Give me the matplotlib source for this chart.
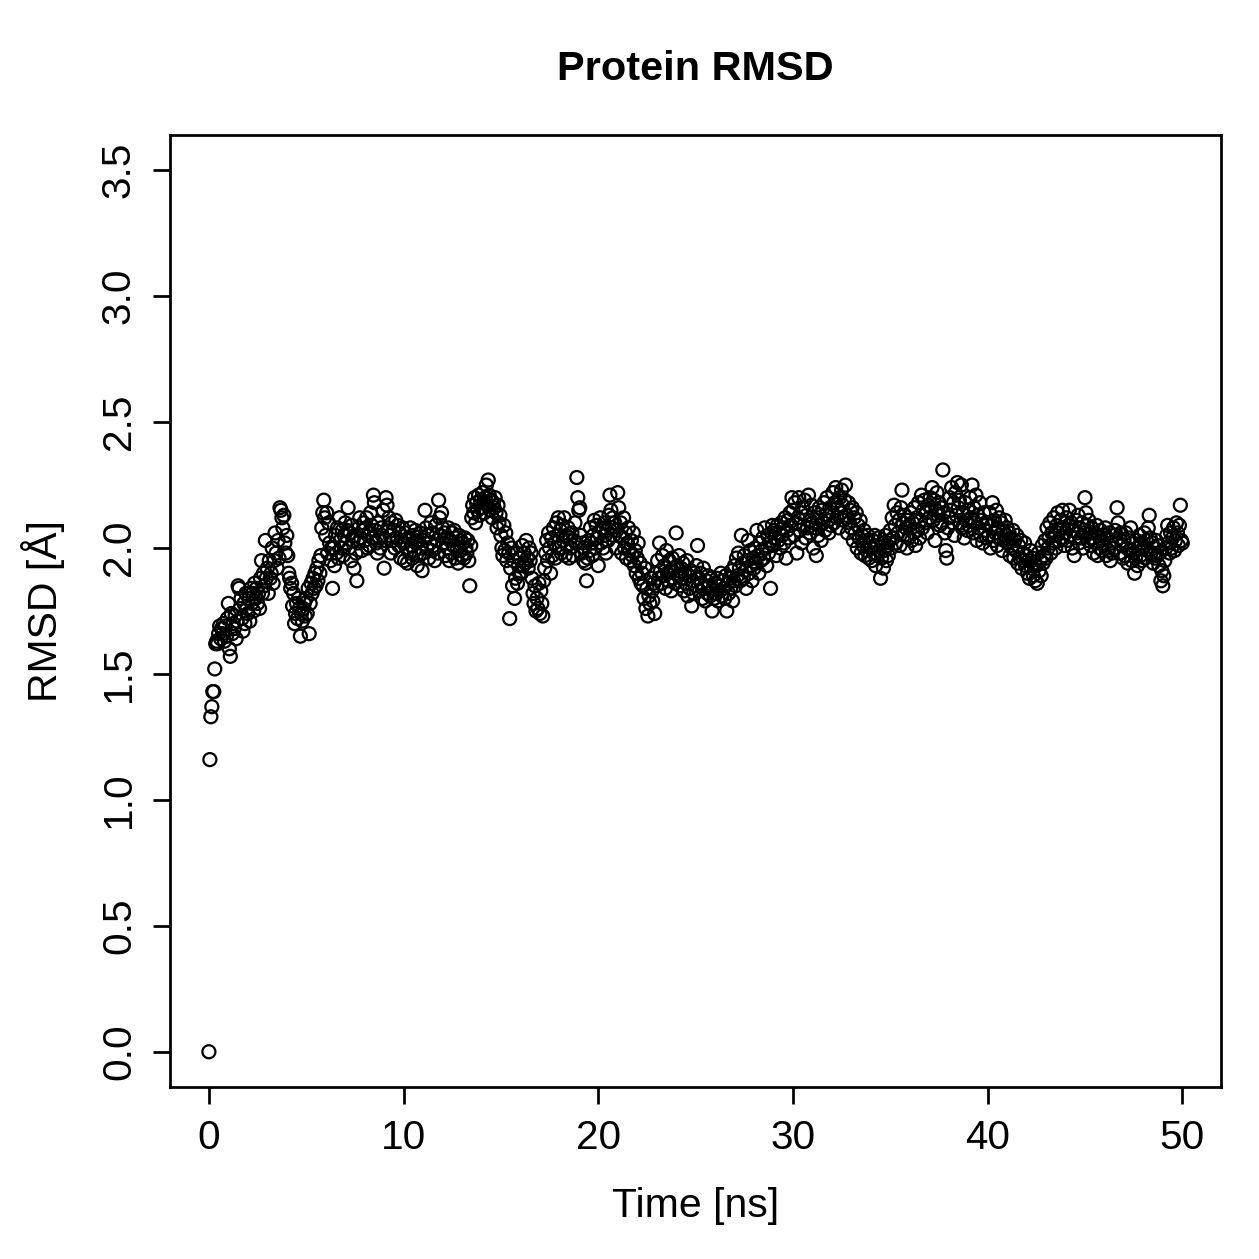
import numpy as np
import matplotlib
matplotlib.use("Agg")
import matplotlib.pyplot as plt

plt.rcParams["font.family"] = ["Liberation Sans", "DejaVu Sans"]

# RMSD values, one row per ns (0.05 ns steps)
rmsd_rows = [
    [0.00, 1.16, 1.33, 1.37, 1.43, 1.43, 1.52, 1.62, 1.63, 1.62, 1.66, 1.69, 1.64, 1.68, 1.66, 1.70, 1.63, 1.69, 1.65, 1.72],
    [1.78, 1.60, 1.57, 1.74, 1.66, 1.70, 1.68, 1.73, 1.64, 1.71, 1.85, 1.84, 1.76, 1.80, 1.72, 1.67, 1.78, 1.70, 1.82, 1.76],
    [1.74, 1.80, 1.71, 1.84, 1.78, 1.82, 1.75, 1.86, 1.80, 1.84, 1.78, 1.82, 1.76, 1.88, 1.95, 1.82, 1.90, 1.85, 2.03, 1.88],
    [1.92, 1.82, 1.95, 1.88, 1.90, 2.00, 1.86, 1.95, 2.06, 1.98, 1.92, 2.03, 1.96, 2.16, 2.15, 2.12, 2.08, 2.13, 2.02, 1.98],
    [2.05, 1.97, 1.90, 1.88, 1.84, 1.86, 1.77, 1.82, 1.70, 1.74, 1.78, 1.72, 1.80, 1.76, 1.65, 1.74, 1.71, 1.76, 1.78, 1.73],
    [1.80, 1.74, 1.84, 1.66, 1.78, 1.86, 1.82, 1.88, 1.84, 1.90, 1.85, 1.92, 1.87, 1.95, 1.90, 1.97, 2.08, 2.14, 2.19, 2.12],
    [2.05, 2.14, 1.98, 2.10, 2.02, 1.95, 2.00, 1.84, 2.00, 1.93, 2.05, 1.98, 2.08, 1.96, 2.12, 2.03, 2.00, 2.07, 1.97, 2.05],
    [2.10, 2.02, 2.07, 2.16, 2.00, 2.06, 1.95, 2.09, 2.03, 1.92, 2.05, 1.98, 1.87, 2.02, 2.08, 2.12, 2.04, 1.99, 2.07, 2.10],
    [2.03, 2.08, 2.12, 2.00, 2.06, 2.01, 2.14, 2.09, 2.04, 2.21, 2.18, 2.07, 2.02, 1.98, 2.10, 2.04, 2.00, 2.08, 2.05, 2.15],
    [1.92, 2.03, 2.20, 2.17, 2.08, 2.12, 2.05, 1.98, 2.10, 2.03, 2.07, 2.00, 2.11, 2.04, 2.09, 2.01, 2.06, 1.96, 2.03, 2.08],
    [2.02, 1.95, 2.06, 2.00, 1.94, 2.04, 1.98, 2.08, 2.01, 1.96, 2.05, 1.99, 2.07, 2.02, 1.93, 2.03, 1.97, 2.06, 2.00, 1.91],
    [1.98, 2.04, 2.15, 2.08, 2.00, 2.05, 1.96, 2.02, 2.10, 1.99, 2.06, 2.01, 1.95, 2.09, 2.03, 1.98, 2.19, 2.12, 2.05, 2.14],
    [2.08, 2.02, 2.06, 1.97, 2.04, 2.00, 2.08, 1.95, 2.03, 1.98, 2.06, 2.01, 2.07, 1.96, 2.04, 2.00, 1.94, 2.05, 1.99, 2.03],
    [1.97, 2.02, 1.96, 2.04, 2.00, 1.98, 2.03, 1.95, 1.85, 2.01, 2.12, 2.17, 2.14, 2.20, 2.10, 2.18, 2.15, 2.21, 2.13, 2.19],
    [2.16, 2.22, 2.18, 2.14, 2.20, 2.25, 2.17, 2.27, 2.21, 2.15, 2.19, 2.12, 2.18, 2.16, 2.20, 2.14, 2.08, 2.17, 2.10, 2.13],
    [2.05, 2.00, 1.97, 2.09, 1.99, 2.06, 1.95, 2.02, 1.98, 1.72, 1.92, 2.00, 1.85, 1.95, 1.80, 1.88, 1.98, 1.86, 1.93, 1.90],
    [1.96, 1.90, 2.01, 1.93, 1.98, 1.94, 2.03, 1.96, 1.92, 2.00, 1.95, 1.98, 1.88, 1.82, 1.78, 1.85, 1.75, 1.80, 1.76, 1.86],
    [1.74, 1.83, 1.78, 1.73, 1.87, 1.92, 1.98, 2.03, 1.95, 2.06, 2.00, 1.90, 2.04, 1.97, 2.08, 2.02, 1.96, 2.10, 2.05, 2.12],
    [2.00, 2.07, 1.98, 2.09, 2.03, 2.12, 1.97, 2.05, 2.01, 2.08, 1.96, 2.04, 2.00, 2.06, 1.97, 2.03, 2.10, 2.02, 2.28, 2.20],
    [2.15, 2.16, 2.05, 1.98, 2.02, 1.95, 2.00, 1.94, 1.87, 1.96, 2.03, 1.99, 2.08, 2.02, 1.97, 2.05, 2.11, 2.00, 2.09, 2.04],
    [1.93, 2.06, 2.12, 2.02, 2.08, 2.00, 2.10, 2.05, 1.98, 2.07, 2.03, 2.13, 2.21, 2.15, 2.08, 2.12, 2.05, 2.10, 2.00, 2.07],
    [2.22, 2.16, 2.05, 2.10, 1.98, 2.04, 2.12, 2.00, 2.06, 1.96, 2.02, 2.08, 1.99, 1.95, 2.03, 1.97, 2.06, 1.93, 1.99, 1.90],
    [1.96, 2.02, 1.88, 1.94, 1.86, 1.90, 1.85, 1.80, 1.92, 1.76, 1.84, 1.73, 1.81, 1.78, 1.88, 1.83, 1.79, 1.86, 1.74, 1.90],
    [1.85, 1.95, 1.88, 2.02, 1.91, 1.86, 1.97, 1.89, 1.93, 1.84, 1.99, 1.90, 1.87, 1.95, 1.91, 1.83, 1.96, 1.88, 1.92, 1.86],
    [2.06, 1.93, 1.89, 1.97, 1.85, 1.92, 1.88, 1.94, 1.83, 1.90, 1.86, 1.95, 1.81, 1.89, 1.84, 1.91, 1.77, 1.87, 1.82, 1.90],
    [1.85, 1.93, 2.01, 1.88, 1.83, 1.90, 1.86, 1.80, 1.92, 1.84, 1.79, 1.87, 1.82, 1.89, 1.85, 1.81, 1.88, 1.75, 1.84, 1.80],
    [1.86, 1.82, 1.88, 1.79, 1.85, 1.83, 1.90, 1.81, 1.87, 1.84, 1.80, 1.89, 1.75, 1.86, 1.82, 1.88, 1.84, 1.91, 1.79, 1.87],
    [1.93, 1.85, 1.96, 1.89, 1.98, 1.92, 1.87, 2.05, 1.94, 1.88, 1.97, 1.91, 1.84, 1.95, 2.03, 1.90, 1.99, 1.93, 1.87, 1.96],
    [1.92, 2.00, 1.94, 2.07, 1.97, 1.90, 2.02, 1.95, 1.99, 2.04, 1.96, 2.08, 2.00, 1.93, 2.05, 1.98, 2.02, 1.84, 2.06, 2.09],
    [2.01, 2.07, 2.04, 1.97, 2.09, 2.03, 2.06, 2.00, 2.10, 2.05, 2.08, 2.02, 2.12, 1.96, 2.07, 2.11, 2.04, 2.14, 2.09, 2.20],
    [2.15, 2.05, 2.18, 2.10, 1.98, 2.12, 2.20, 2.07, 2.14, 2.02, 2.16, 2.09, 2.19, 2.04, 2.13, 2.08, 2.21, 2.06, 2.11, 2.17],
    [2.10, 2.00, 2.14, 2.08, 1.97, 2.12, 2.05, 2.16, 2.09, 2.03, 2.15, 2.10, 2.18, 2.07, 2.13, 2.20, 2.11, 2.06, 2.16, 2.09],
    [2.14, 2.22, 2.10, 2.18, 2.24, 2.12, 2.16, 2.08, 2.20, 2.14, 2.23, 2.17, 2.11, 2.19, 2.25, 2.13, 2.06, 2.18, 2.10, 2.15],
    [2.08, 2.16, 2.03, 2.12, 2.06, 2.14, 2.00, 2.09, 2.04, 2.11, 1.98, 2.05, 2.01, 2.07, 1.97, 2.03, 1.99, 2.05, 1.96, 2.02],
    [2.00, 1.95, 2.03, 1.98, 2.05, 1.93, 2.01, 1.97, 2.04, 1.99, 1.88, 1.96, 2.02, 1.92, 1.99, 2.05, 1.95, 2.01, 1.97, 2.03],
    [2.07, 2.00, 2.12, 2.04, 2.17, 2.09, 2.02, 2.14, 2.06, 2.11, 2.01, 2.16, 2.23, 2.10, 2.05, 2.13, 2.08, 2.00, 2.11, 2.04],
    [2.09, 2.14, 2.03, 2.10, 2.06, 2.16, 2.01, 2.12, 2.07, 2.18, 2.04, 2.11, 2.21, 2.08, 2.15, 2.19, 2.10, 2.14, 2.06, 2.17],
    [2.12, 2.20, 2.16, 2.24, 2.11, 2.19, 2.03, 2.15, 2.22, 2.13, 2.18, 2.09, 2.16, 2.10, 2.31, 2.14, 2.06, 1.99, 1.96, 2.08],
    [2.12, 2.20, 2.15, 2.24, 2.10, 2.18, 2.05, 2.22, 2.13, 2.26, 2.16, 2.19, 2.10, 2.25, 2.08, 2.14, 2.04, 2.18, 2.11, 2.07],
    [2.15, 2.09, 2.20, 2.12, 2.25, 2.06, 2.16, 2.10, 2.21, 2.03, 2.13, 2.08, 2.18, 2.05, 2.11, 2.02, 2.14, 2.07, 2.10, 2.04],
    [2.10, 2.05, 2.14, 2.00, 2.09, 2.18, 2.03, 2.11, 2.06, 2.15, 2.01, 2.08, 2.12, 2.04, 2.10, 1.99, 2.07, 2.03, 2.11, 2.05],
    [2.08, 2.02, 2.06, 1.97, 2.04, 2.00, 2.07, 1.96, 2.03, 1.99, 2.05, 1.94, 2.01, 1.96, 2.03, 1.92, 1.98, 1.95, 2.02, 1.93],
    [1.97, 1.90, 1.95, 1.88, 1.99, 1.92, 1.96, 1.89, 1.94, 1.87, 1.93, 1.86, 1.98, 1.91, 1.95, 1.89, 2.01, 1.94, 1.97, 2.03],
    [1.96, 2.08, 2.00, 2.04, 2.10, 1.98, 2.06, 2.02, 2.12, 2.05, 2.00, 2.09, 2.14, 2.03, 2.07, 2.11, 2.04, 2.15, 2.08, 2.01],
    [2.06, 2.12, 2.03, 2.09, 2.15, 2.05, 2.10, 2.00, 2.07, 1.97, 2.04, 2.11, 2.06, 2.13, 2.02, 2.08, 2.04, 2.10, 2.00, 2.06],
    [2.20, 2.14, 2.09, 2.03, 2.11, 2.06, 2.01, 2.08, 2.04, 1.98, 2.06, 2.02, 2.09, 1.97, 2.05, 2.00, 2.07, 2.03, 1.99, 2.05],
    [2.01, 2.08, 1.97, 2.04, 1.99, 2.06, 1.95, 2.02, 1.98, 2.05, 2.00, 2.07, 2.03, 2.16, 2.10, 2.04, 1.98, 2.06, 2.01, 1.96],
    [2.03, 1.97, 2.06, 2.00, 1.94, 2.04, 1.99, 2.08, 1.95, 2.02, 1.98, 1.90, 1.96, 2.03, 1.93, 2.00, 2.05, 1.97, 2.02, 1.95],
    [2.00, 2.06, 1.96, 2.03, 1.99, 2.08, 2.13, 2.04, 1.98, 2.02, 1.94, 2.00, 1.96, 2.03, 1.97, 2.01, 1.93, 1.98, 1.87, 1.91],
    [1.85, 1.89, 1.95, 2.00, 2.05, 2.09, 2.02, 1.98, 2.06, 2.00, 2.04, 2.08, 1.99, 2.03, 2.10, 2.06, 2.01, 2.09, 2.17, 2.03],
    [2.02],
]

rmsd = np.concatenate([np.array(r) for r in rmsd_rows])
time_ns = np.arange(len(rmsd)) * 0.05

x_ticks = [0, 10, 20, 30, 40, 50]
y_ticks = [0.0, 0.5, 1.0, 1.5, 2.0, 2.5, 3.0, 3.5]

fig = plt.figure(figsize=(1259 / 180, 1259 / 180), dpi=180)
ax = fig.add_axes([0.135, 0.1366, 0.835, 0.7562])

ax.scatter(time_ns, rmsd, s=27, facecolors="none", edgecolors="black", linewidths=0.9)

# R-style axes: 4% padding, outward ticks
ax.set_xlim(-2, 52)
ax.set_ylim(-0.14, 3.64)
ax.set_xticks(x_ticks)
ax.set_xticklabels([str(t) for t in x_ticks])
ax.set_yticks(y_ticks)
ax.set_yticklabels(["%.1f" % t for t in y_ticks], rotation=90, va="center")
ax.tick_params(direction="out", length=6.8, width=1.1, labelsize=16.2, pad=6)
for s in ax.spines.values():
    s.set_linewidth(1.1)

ax.set_xlabel("Time [ns]", fontsize=16.4, labelpad=12)
ax.set_ylabel("RMSD [Å]", fontsize=16.4, labelpad=14)
ax.set_title("Protein RMSD", fontsize=16.6, fontweight="bold", pad=22)

fig.savefig("out.png", dpi=180)
